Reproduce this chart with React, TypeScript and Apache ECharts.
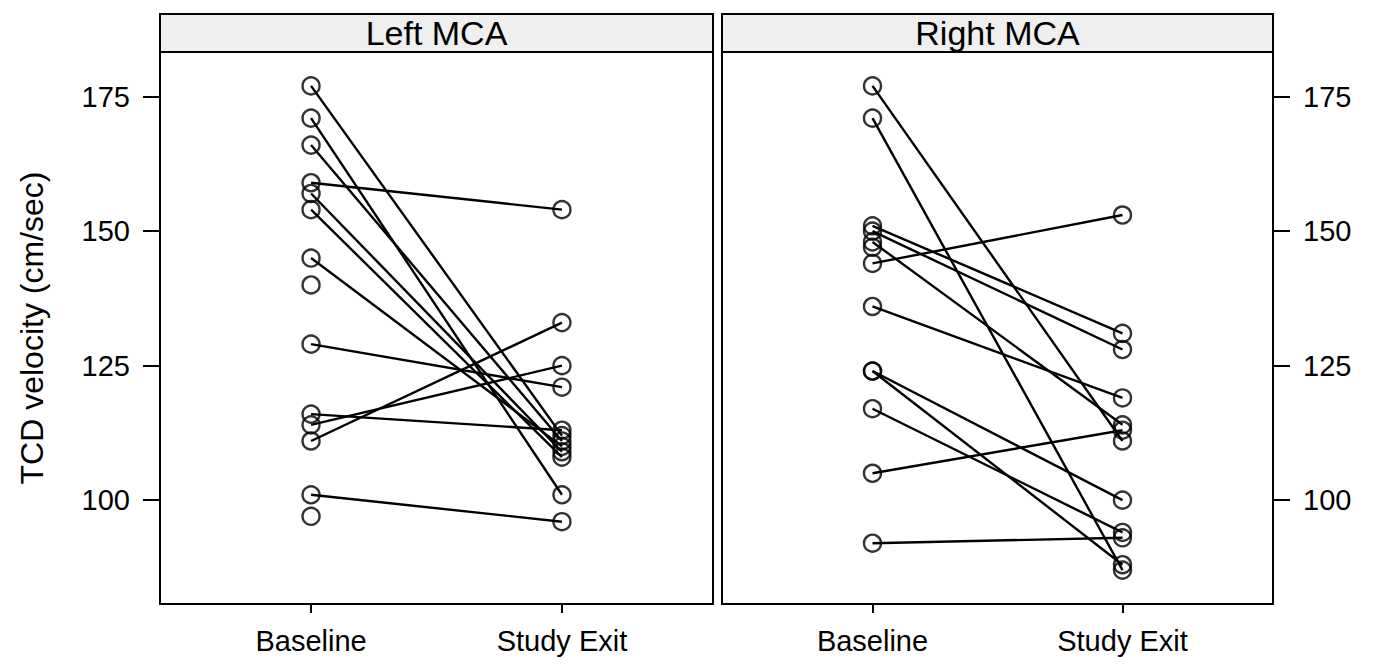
import React, { useEffect, useRef } from "react";
import * as echarts from "echarts";

const categories = ["Baseline", "Study Exit"];
const panels = ["Left MCA", "Right MCA"];
const yTicks = [100, 125, 150, 175];

// Left MCA: paired subjects (null = no study-exit value)
const leftBaseline = [177, 171, 166, 159, 157, 154, 145, 140, 129, 116, 114, 111, 101, 97];
const leftExit = [112, 101, 111, 154, 109, 108, 110, null, 121, 113, 125, 133, 96, null];

// Right MCA
const rightBaseline = [177, 171, 151, 150, 148, 147, 144, 136, 124, 124, 117, 105, 92];
const rightExit = [111, 87, 131, 128, 114, null, 153, 119, 100, 88, 94, 113, 93];

const FONT = "Liberation Sans, Arial, Helvetica, sans-serif";

function panelSeries(base: number[], exit: (number | null)[], idx: number) {
  const series: any[] = [];
  base.forEach((b, i) => {
    const e = exit[i];
    if (e !== null && e !== undefined) {
      series.push({
        type: "line",
        xAxisIndex: idx,
        yAxisIndex: idx,
        data: [[1, b], [2, e]],
        symbol: "none",
        lineStyle: { color: "#000", width: 2.4 },
        silent: true,
        z: 2,
      });
    }
  });
  const pts: number[][] = [];
  base.forEach((b) => pts.push([1, b]));
  exit.forEach((e) => {
    if (e !== null && e !== undefined) pts.push([2, e]);
  });
  series.push({
    type: "scatter",
    xAxisIndex: idx,
    yAxisIndex: idx,
    data: pts,
    symbol: "circle",
    symbolSize: 17,
    itemStyle: { color: "rgba(0,0,0,0)", borderColor: "#000", borderWidth: 2.4 },
    z: 3,
  });
  return series;
}

export default function App() {
  const ref = useRef<HTMLDivElement>(null);
  useEffect(() => {
    if (!ref.current) return;
    const chart = echarts.init(ref.current, null, { renderer: "svg" });
    const grids = [
      { left: 160, top: 52, width: 553, height: 552 },
      { left: 722, top: 52, width: 551, height: 552 },
    ];
    const xAxis = grids.map((_, i) => ({
      type: "value",
      gridIndex: i,
      min: 0.398,
      max: 2.602,
      axisLine: { show: true, lineStyle: { color: "#000", width: 2 } },
      axisTick: { show: true, customValues: [1, 2], length: 9, lineStyle: { color: "#000", width: 2 } },
      axisLabel: {
        customValues: [1, 2],
        formatter: (v: number) => categories[Math.round(v) - 1] ?? "",
        color: "#000",
        fontSize: 29,
        fontFamily: FONT,
        margin: 22,
      },
      splitLine: { show: false },
    }));
    const yAxis = grids.map((_, i) => ({
      type: "value",
      gridIndex: i,
      min: 80.7,
      max: 183.3,
      position: i === 0 ? "left" : "right",
      axisLine: { show: true, lineStyle: { color: "#000", width: 2 } },
      axisTick: { show: true, customValues: yTicks, length: 17, lineStyle: { color: "#000", width: 2 } },
      axisLabel: {
        customValues: yTicks,
        color: "#000",
        fontSize: 29,
        fontFamily: FONT,
        margin: 30,
      },
      splitLine: { show: false },
      name: i === 0 ? "TCD velocity (cm/sec)" : "",
      nameLocation: "middle",
      nameGap: 112,
      nameRotate: 90,
      nameTextStyle: { color: "#000", fontSize: 32, fontFamily: FONT },
    }));
    const graphic: any[] = [];
    grids.forEach((g, i) => {
      graphic.push({
        type: "rect",
        shape: { x: g.left, y: 14, width: g.width, height: 38 },
        style: { fill: "#efefef", stroke: "#000", lineWidth: 2 },
        z: 10,
      });
      graphic.push({
        type: "text",
        x: g.left + g.width / 2,
        y: 33,
        style: {
          text: panels[i],
          fill: "#000",
          font: `34px ${FONT}`,
          textAlign: "center",
          textVerticalAlign: "middle",
        },
        z: 11,
      });
    });
    chart.setOption({
      animation: false,
      backgroundColor: "#fff",
      grid: grids.map((g) => ({ ...g, show: true, borderColor: "#000", borderWidth: 2, backgroundColor: "transparent" })),
      xAxis,
      yAxis,
      series: [...panelSeries(leftBaseline, leftExit, 0), ...panelSeries(rightBaseline, rightExit, 1)],
      graphic,
    });
    return () => chart.dispose();
  }, []);
  return <div ref={ref} style={{ width: 1378, height: 669, position: "absolute", left: 0, top: 0 }} />;
}
